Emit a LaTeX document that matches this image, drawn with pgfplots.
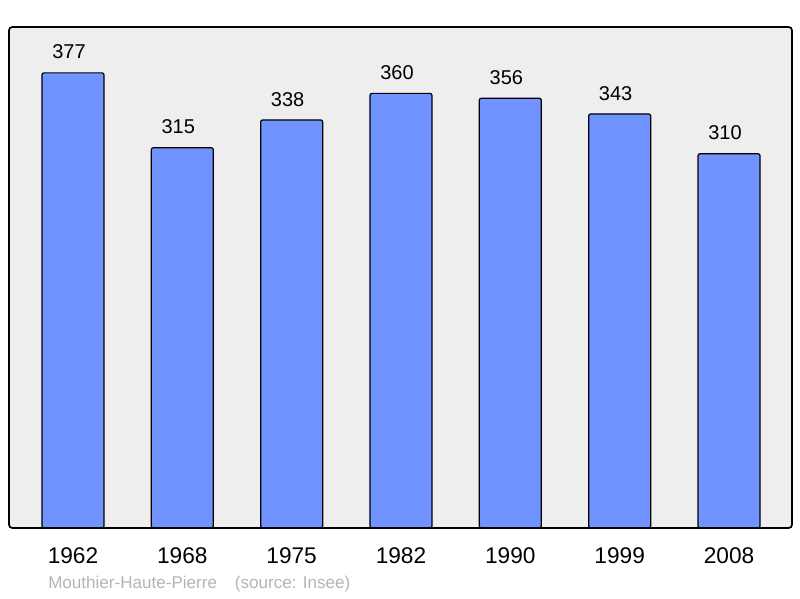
\documentclass[border=0pt]{standalone}
\usepackage{pgfplots}
\pgfplotsset{compat=1.18}
\usepackage{fontspec}
\setmainfont{Liberation Sans}
\definecolor{barblue}{RGB}{112,147,255}
\definecolor{bggray}{RGB}{238,238,238}
\definecolor{srcgray}{RGB}{180,180,180}
\begin{document}
\begin{tikzpicture}
\begin{axis}[
  scale only axis,
  width=587.25pt, height=375.75pt,
  xmin=-0.585, xmax=6.576,
  ymin=0, ymax=415,
  axis line style={draw=none},
  axis background/.style={fill=bggray, rounded corners=2.5pt},
  xtick=data,
  xticklabels={1962,1968,1975,1982,1990,1999,2008},
  ytick=\empty,
  major tick length=0pt,
  xticklabel style={font=\fontsize{17}{20}\selectfont, anchor=north, yshift=-11pt},
  /pgf/number format/assume math mode=true,
  nodes near coords,
  every node near coord/.append style={font=\fontsize{15}{18}\selectfont, anchor=south, yshift=6.5pt, xshift=-3pt},
  clip=false,
]
\addplot[ybar, bar width=0.567, fill=barblue, draw=black, line width=0.9pt, rounded corners=1.5pt]
  coordinates {(0,377) (1,315) (2,338) (3,360) (4,356) (5,343) (6,310)};
\node[anchor=west, text=srcgray, font=\fontsize{12.8}{15}\selectfont, inner sep=0pt] at (rel axis cs:0.0498,-0.1128) {Mouthier-Haute-Pierre\hspace{1.05em}(source: Insee)};
\end{axis}
\draw[rounded corners=2.5pt, line width=1.3pt] (current axis.south west) rectangle (current axis.north east);
\pgfresetboundingbox
\path ([xshift=-6.75pt, yshift=-52.5pt]current axis.south west) rectangle ([xshift=6pt, yshift=20.25pt]current axis.north east);
\end{tikzpicture}
\end{document}
